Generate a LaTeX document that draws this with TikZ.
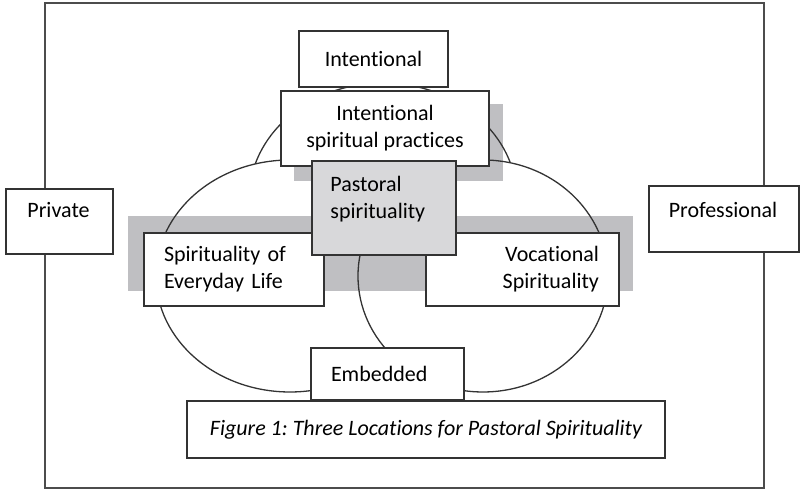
\documentclass[tikz,border=0pt]{standalone}
\usepackage{fontspec}
\setmainfont{Carlito}[Ligatures=NoCommon]
\newfontfamily\tightfont{Carlito}[Ligatures=NoCommon,WordSpace=0.5]
\frenchspacing
\colorlet{colorLine}{black!80}
\colorlet{colorFrame}{black!70}
\definecolor{colorShadow}{RGB}{191,191,194}
\definecolor{colorPastoral}{RGB}{216,216,218}
\tikzset{
   every node/.style={font=\fontsize{11}{13.4}\selectfont},
   box/.style={draw=colorLine,line width=1pt,fill=white,inner sep=0pt,anchor=north west},
   lbox/.style={box,align=left,inner xsep=10pt},
   rbox/.style={box,align=right,inner xsep=10pt},
   txt/.style={inner sep=0pt},
   shade/.style={fill=colorShadow,draw=none},
   ring/.style={draw=colorLine,line width=0.65pt},
   frame/.style={draw=colorFrame,line width=0.8pt},
}
% region outside an ellipse, for clipping
\newcommand{\outside}[3]{(-100,-100) -- (-100,600) -- (900,600) -- (900,-100) -- cycle (#1) ellipse [x radius=#2, y radius=#3]}

\begin{document}
\begin{tikzpicture}[x=0.5pt,y=-0.5pt]
      \useasboundingbox (0,0) rectangle (800,490);

      % shadows
      \path[shade] (294,104) rectangle (503,181);
      \path[shade] (128,216) rectangle (633,291);

      % the three locations
      \coordinate (cT) at (383,199);
      \coordinate (cL) at (290,276);
      \coordinate (cR) at (483,276);
      \begin{scope}[even odd rule]
        \clip \outside{cL}{134}{116};
        \clip \outside{cR}{125}{116};
        \draw[ring] (cT) ellipse [x radius=134, y radius=116];
      \end{scope}
      \begin{scope}[even odd rule]
        \clip \outside{cR}{125}{116};
        \draw[ring] (cL) ellipse [x radius=134, y radius=116];
      \end{scope}
      \draw[ring] (cR) ellipse [x radius=125, y radius=116];

      % outer frame
      \draw[frame] (45,3) rectangle (764,488);

      \node[box,minimum width=53.5pt,minimum height=32.5pt] (priv) at (5,188) {};
      \node[txt,anchor=base] (privT) at (58.5,218) {Private};
      \node[box,minimum width=75pt,minimum height=33pt] (prof) at (648,185) {};
      \node[txt,anchor=base] (profT) at (723,218) {Professional};

      \node[box,minimum width=74.5pt,minimum height=28pt] (intent) at (298,30) {Intentional};
      \node[box,align=center,minimum width=104pt,minimum height=37.5pt] (pract) at (280,90)
        {Intentional\\spiritual practices};

      \node[lbox,text width=70pt,minimum height=36.5pt] (every) at (143,232)
        {\tightfont Spirituality of\\Everyday Life};
      \node[rbox,text width=76.5pt,minimum height=36.5pt] (vocat) at (425,232)
        {Vocational\\Spirituality};

      \node[box,fill=colorPastoral,minimum width=72pt,minimum height=47pt] (past) at (311,160) {};
      \node[txt,anchor=north west,align=left] (pastT) at (330,176) {Pastoral\\spirituality};

      \node[lbox,text width=56.5pt,minimum height=26pt] (embed) at (310,347) {Embedded};
      \node[box,minimum width=239pt,minimum height=28.5pt] (capt) at (186,400)
        {\itshape Figure 1: Three Locations for Pastoral Spirituality};
\end{tikzpicture}
\end{document}
